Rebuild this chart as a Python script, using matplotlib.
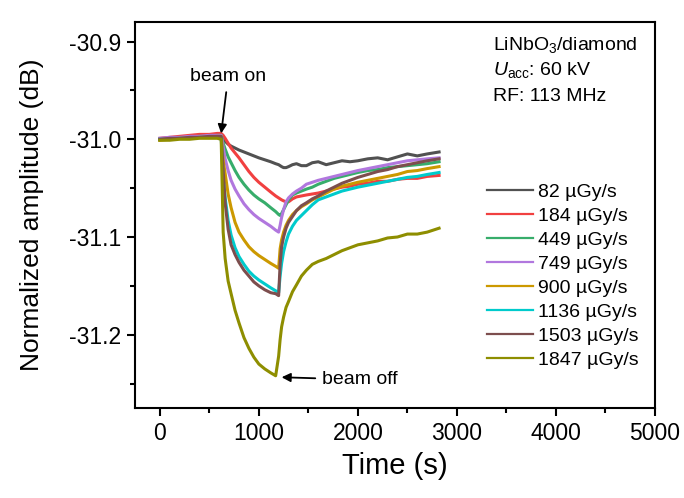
import matplotlib
matplotlib.use("Agg")
import matplotlib.pyplot as plt
from matplotlib.ticker import MultipleLocator, FormatStrFormatter

plt.rcParams["font.family"] = ["Liberation Sans", "DejaVu Sans"]
plt.rcParams["mathtext.fontset"] = "custom"
plt.rcParams["mathtext.rm"] = "Liberation Sans"
plt.rcParams["mathtext.it"] = "Liberation Sans:italic"
plt.rcParams["axes.unicode_minus"] = False

# Sampling times (s), shared by all dose rates
time_s = [0, 100, 200, 300, 400, 500, 580, 620, 640, 660, 690, 720, 760, 800,
          850, 900, 950, 1000, 1060, 1120, 1170, 1200, 1215, 1230, 1250, 1275,
          1300, 1340, 1380, 1430, 1480, 1540, 1600, 1680, 1760, 1840, 1920,
          2000, 2100, 2200, 2300, 2400, 2500, 2600, 2700, 2820]

dose_labels = ["82 \u00b5Gy/s", "184 \u00b5Gy/s", "449 \u00b5Gy/s", "749 \u00b5Gy/s",
               "900 \u00b5Gy/s", "1136 \u00b5Gy/s", "1503 \u00b5Gy/s", "1847 \u00b5Gy/s"]

amp_82 = [-31.000, -30.999, -30.998, -30.998, -30.997, -30.997, -30.996, -30.996,
          -30.999, -31.002, -31.005, -31.007, -31.009, -31.011, -31.013, -31.015,
          -31.017, -31.019, -31.021, -31.023, -31.025, -31.026, -31.027, -31.028,
          -31.029, -31.029, -31.028, -31.026, -31.025, -31.027, -31.027, -31.024,
          -31.023, -31.026, -31.024, -31.022, -31.023, -31.022, -31.020, -31.019,
          -31.021, -31.018, -31.015, -31.017, -31.015, -31.013]
amp_184 = [-30.999, -30.998, -30.997, -30.996, -30.995, -30.995, -30.994, -30.994,
           -30.996, -30.999, -31.004, -31.009, -31.014, -31.019, -31.026, -31.033,
           -31.039, -31.044, -31.049, -31.054, -31.058, -31.060, -31.061, -31.062,
           -31.063, -31.064, -31.064, -31.061, -31.059, -31.058, -31.057, -31.056,
           -31.055, -31.053, -31.051, -31.049, -31.048, -31.046, -31.045, -31.043,
           -31.043, -31.041, -31.040, -31.040, -31.038, -31.037]
amp_449 = [-31.000, -30.999, -30.999, -30.998, -30.997, -30.997, -30.996, -30.996,
           -31.004, -31.010, -31.018, -31.024, -31.032, -31.039, -31.046, -31.052,
           -31.057, -31.061, -31.065, -31.070, -31.074, -31.077, -31.078, -31.076,
           -31.072, -31.067, -31.062, -31.057, -31.055, -31.053, -31.051, -31.049,
           -31.046, -31.043, -31.040, -31.038, -31.036, -31.034, -31.032, -31.031,
           -31.029, -31.028, -31.027, -31.026, -31.025, -31.023]
amp_749 = [-30.999, -30.998, -30.998, -30.997, -30.997, -30.996, -30.996, -30.996,
           -31.008, -31.020, -31.032, -31.042, -31.051, -31.058, -31.066, -31.072,
           -31.077, -31.081, -31.085, -31.089, -31.093, -31.095, -31.088, -31.080,
           -31.072, -31.064, -31.060, -31.056, -31.053, -31.050, -31.046, -31.044,
           -31.042, -31.040, -31.038, -31.036, -31.034, -31.032, -31.030, -31.028,
           -31.026, -31.024, -31.022, -31.021, -31.020, -31.019]
amp_900 = [-31.001, -31.000, -30.999, -30.999, -30.998, -30.998, -30.997, -30.997,
           -31.022, -31.035, -31.056, -31.070, -31.085, -31.095, -31.103, -31.110,
           -31.115, -31.119, -31.123, -31.127, -31.130, -31.132, -31.112, -31.103,
           -31.095, -31.088, -31.083, -31.077, -31.073, -31.069, -31.066, -31.062,
           -31.059, -31.055, -31.051, -31.048, -31.046, -31.044, -31.042, -31.040,
           -31.038, -31.036, -31.033, -31.032, -31.030, -31.028]
amp_1136 = [-31.000, -31.000, -30.999, -30.999, -30.998, -30.998, -30.998, -30.998,
            -31.040, -31.060, -31.083, -31.098, -31.111, -31.120, -31.128, -31.135,
            -31.140, -31.144, -31.148, -31.152, -31.155, -31.157, -31.140, -31.127,
            -31.115, -31.105, -31.097, -31.089, -31.083, -31.078, -31.073, -31.067,
            -31.062, -31.059, -31.056, -31.053, -31.051, -31.049, -31.047, -31.045,
            -31.043, -31.041, -31.039, -31.038, -31.036, -31.034]
amp_1503 = [-31.000, -30.999, -30.999, -30.998, -30.998, -30.997, -30.997, -30.997,
            -31.032, -31.065, -31.092, -31.108, -31.118, -31.126, -31.134, -31.140,
            -31.146, -31.150, -31.154, -31.157, -31.158, -31.160, -31.128, -31.110,
            -31.100, -31.091, -31.085, -31.079, -31.073, -31.068, -31.065, -31.061,
            -31.058, -31.053, -31.049, -31.045, -31.042, -31.039, -31.036, -31.033,
            -31.031, -31.028, -31.026, -31.024, -31.022, -31.020]
amp_1847 = [-31.001, -31.001, -31.000, -31.000, -30.999, -30.999, -30.999, -31.000,
            -31.095, -31.122, -31.145, -31.158, -31.175, -31.188, -31.203, -31.214,
            -31.223, -31.230, -31.235, -31.239, -31.242, -31.222, -31.205, -31.192,
            -31.182, -31.172, -31.166, -31.156, -31.149, -31.140, -31.134, -31.128,
            -31.125, -31.122, -31.118, -31.114, -31.111, -31.108, -31.106, -31.104,
            -31.101, -31.100, -31.097, -31.097, -31.095, -31.091]

series = [amp_82, amp_184, amp_449, amp_749, amp_900, amp_1136, amp_1503, amp_1847]
colors = ["#515151", "#F14040", "#37AD6B", "#B177DE", "#CC9900", "#00CBCC",
          "#7D4E4E", "#8E8E00"]

fig = plt.figure(figsize=(6.84, 4.98), dpi=100)
ax = fig.add_axes([0.1974, 0.1807, 0.7602, 0.7751])

lines = []
for vals, col, lab in zip(series, colors, dose_labels):
    ln, = ax.plot(time_s, vals, color=col, lw=2.2, label=lab,
                  solid_joinstyle="round")
    lines.append(ln)

ax.set_xlim(-250, 5000)
ax.set_ylim(-31.275, -30.88)
ax.xaxis.set_major_locator(MultipleLocator(1000))
ax.xaxis.set_minor_locator(MultipleLocator(500))
ax.yaxis.set_major_locator(MultipleLocator(0.1))
ax.yaxis.set_minor_locator(MultipleLocator(0.05))
ax.yaxis.set_major_formatter(FormatStrFormatter("%.1f"))

for s in ax.spines.values():
    s.set_linewidth(1.5)
ax.tick_params(which="major", direction="out", length=6, width=1.5,
               labelsize=16.5, pad=4, top=False, right=False)
ax.tick_params(which="minor", direction="out", length=3.5, width=1.5,
               top=False, right=False)

ax.set_xlabel("Time (s)", fontsize=21)
ax.set_ylabel("Normalized amplitude (dB)", fontsize=19)
ax.xaxis.set_label_coords(0.5, -0.114)
ax.yaxis.set_label_coords(-0.175, 0.5)

leg = ax.legend(handles=lines, loc="upper left", bbox_to_anchor=(0.658, 0.608),
                frameon=False, fontsize=14, handlelength=2.37, handletextpad=0.27,
                labelspacing=0.33, borderpad=0.0)
for h in leg.get_lines():
    h.set_linewidth(1.6)

ax.text(0.688, 0.940, "LiNbO$_3$/diamond", transform=ax.transAxes,
        fontsize=14, ha="left", va="center")
ax.text(0.688, 0.876, "$U$$_{\\mathrm{acc}}$: 60 kV", transform=ax.transAxes,
        fontsize=14, ha="left", va="center")
ax.text(0.688, 0.806, "RF: 113 MHz", transform=ax.transAxes,
        fontsize=14, ha="left", va="center")

ax.annotate("beam on", xy=(620, -30.994), xytext=(690, -30.936),
            fontsize=14, ha="center", va="center",
            arrowprops=dict(arrowstyle="-|>", color="black", lw=1.3,
                            mutation_scale=13, shrinkA=3, shrinkB=0))
ax.annotate("beam off", xy=(1230, -31.2435), xytext=(1640, -31.246),
            fontsize=14, ha="left", va="center",
            arrowprops=dict(arrowstyle="-|>", color="black", lw=1.3,
                            mutation_scale=13, shrinkA=3, shrinkB=0))

fig.savefig("out.png", dpi=100)
